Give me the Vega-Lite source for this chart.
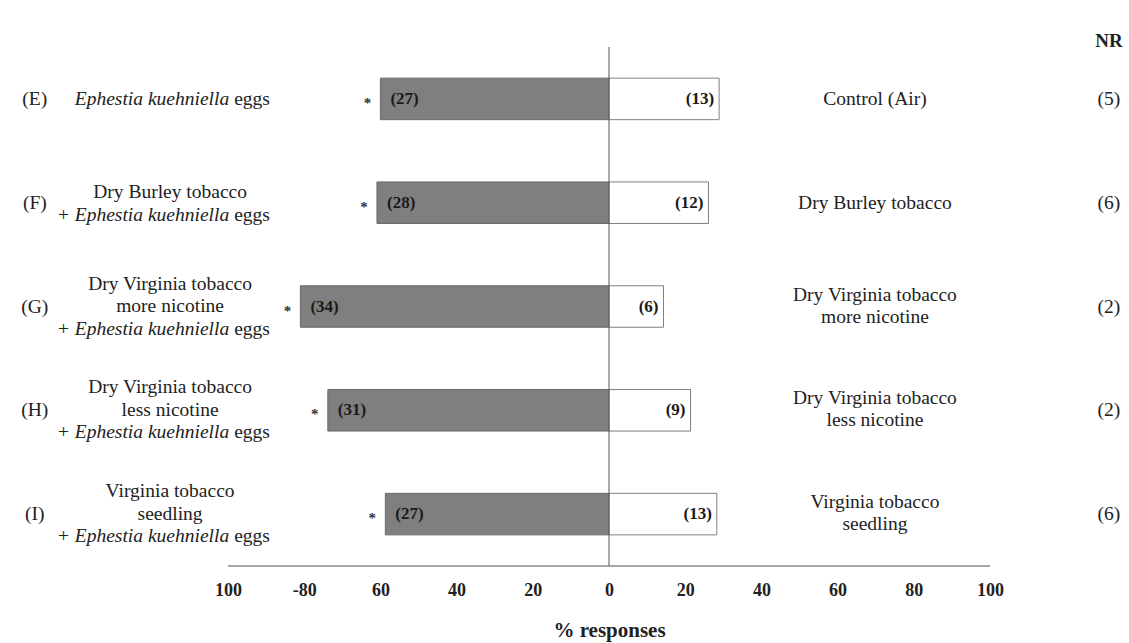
{
  "$schema": "https://vega.github.io/schema/vega-lite/v6.json",
  "width": 1129,
  "height": 519,
  "autosize": {"type": "none"},
  "padding": {"left": 0, "right": 0, "top": 47, "bottom": 77},
  "background": "white",
  "config": {
    "view": {"stroke": null},
    "font": "Liberation Serif",
    "axisX": {
      "domain": false, "ticks": false, "tickSize": 0, "grid": false,
      "labelFont": "Liberation Serif", "labelFontSize": 18, "labelFontWeight": "bold", "labelColor": "#222", "labelPadding": 15,
      "titleFont": "Liberation Serif", "titleFontSize": 21, "titleFontWeight": "bold", "titleColor": "#222"
    }
  },
  "data": {
    "values": [
      {"g": "E", "letter": "(E)", "top": "", "ital": "Ephestia kuehniella", "reg": "eggs", "rlab": "Control (Air)", "left": -60.0, "right": 28.9, "nl": 27, "nr": 13, "nres": 5},
      {"g": "F", "letter": "(F)", "top": "Dry Burley tobacco", "ital": "+ Ephestia kuehniella", "reg": "eggs", "rlab": "Dry Burley tobacco", "left": -60.9, "right": 26.1, "nl": 28, "nr": 12, "nres": 6},
      {"g": "G", "letter": "(G)", "top": "Dry Virginia tobacco\nmore nicotine", "ital": "+ Ephestia kuehniella", "reg": "eggs", "rlab": "Dry Virginia tobacco\nmore nicotine", "left": -81.0, "right": 14.3, "nl": 34, "nr": 6, "nres": 2},
      {"g": "H", "letter": "(H)", "top": "Dry Virginia tobacco\nless nicotine", "ital": "+ Ephestia kuehniella", "reg": "eggs", "rlab": "Dry Virginia tobacco\nless nicotine", "left": -73.8, "right": 21.4, "nl": 31, "nr": 9, "nres": 2},
      {"g": "I", "letter": "(I)", "top": "Virginia tobacco\nseedling", "ital": "+ Ephestia kuehniella", "reg": "eggs", "rlab": "Virginia tobacco\nseedling", "left": -58.7, "right": 28.3, "nl": 27, "nr": 13, "nres": 6}
    ]
  },
  "transform": [
    {"calculate": "'(' + datum.nl + ')'", "as": "lc"},
    {"calculate": "'(' + datum.nr + ')'", "as": "rc"},
    {"calculate": "'(' + datum.nres + ')'", "as": "nrs"}
  ],
  "layer": [
    {
      "mark": {"type": "bar", "color": "#7f7f7f", "stroke": "#6a6a6a", "strokeWidth": 1},
      "encoding": {
        "x": {
          "field": "left", "type": "quantitative",
          "scale": {"domain": [-159.84, 136.48], "nice": false, "zero": false},
          "title": "% responses",
          "axis": {
            "values": [-100, -80, -60, -40, -20, 0, 20, 40, 60, 80, 100],
            "labelExpr": "datum.value == -80 ? '-80' : format(abs(datum.value), 'd')",
            "titleX": {"expr": "scale('x', 0)"}, "titleY": 53, "titleAlign": "center", "titleBaseline": "top"
          }
        },
        "x2": {"datum": 0},
        "y": {"field": "g", "type": "nominal", "sort": null, "axis": null, "scale": {"paddingInner": 0.6, "paddingOuter": 0.3}}
      }
    },
    {
      "mark": {"type": "bar", "color": "white", "stroke": "#808080", "strokeWidth": 1},
      "encoding": {
        "x": {"field": "right", "type": "quantitative", "title": "% responses"},
        "x2": {"datum": 0},
        "y": {"field": "g", "type": "nominal", "sort": null, "axis": null}
      }
    },
    {
      "data": {"values": [{}]},
      "mark": {"type": "rule", "color": "#555", "strokeWidth": 1},
      "encoding": {"x": {"datum": 0, "type": "quantitative", "title": "% responses"}}
    },
    {
      "data": {"values": [{}]},
      "mark": {"type": "rule", "color": "#888", "strokeWidth": 1.5},
      "encoding": {"x": {"datum": -100, "type": "quantitative", "title": "% responses"}, "x2": {"datum": 100}, "y": {"value": {"expr": "height"}}}
    },
    {
      "mark": {"type": "text", "text": "*", "align": "center", "baseline": "middle", "dx": -13, "dy": 4, "fontSize": 15, "fontWeight": "bold", "color": "#333"},
      "encoding": {
        "x": {"field": "left", "type": "quantitative", "title": "% responses"},
        "y": {"field": "g", "type": "nominal", "sort": null, "axis": null}
      }
    },
    {
      "mark": {"type": "text", "align": "left", "baseline": "middle", "dx": 10, "fontSize": 17, "fontWeight": "bold", "color": "#1a1a1a"},
      "encoding": {
        "x": {"field": "left", "type": "quantitative", "title": "% responses"},
        "y": {"field": "g", "type": "nominal", "sort": null, "axis": null},
        "text": {"field": "lc", "type": "nominal"}
      }
    },
    {
      "mark": {"type": "text", "align": "right", "baseline": "middle", "dx": -5, "fontSize": 17, "fontWeight": "bold", "color": "#1a1a1a"},
      "encoding": {
        "x": {"field": "right", "type": "quantitative", "title": "% responses"},
        "y": {"field": "g", "type": "nominal", "sort": null, "axis": null},
        "text": {"field": "rc", "type": "nominal"}
      }
    },
    {
      "mark": {"type": "text", "align": "center", "baseline": "middle", "fontSize": 19.5, "color": "#222"},
      "encoding": {
        "x": {"datum": -150.7, "type": "quantitative", "title": "% responses"},
        "y": {"field": "g", "type": "nominal", "sort": null, "axis": null},
        "text": {"field": "letter", "type": "nominal"}
      }
    },
    {
      "transform": [{"filter": {"field": "g", "oneOf": ["G", "H", "I"]}}],
      "mark": {"type": "text", "align": "center", "baseline": "middle", "dy": -23, "fontSize": 19.5, "lineBreak": "\n", "lineHeight": 22.5, "color": "#222"},
      "encoding": {
        "x": {"datum": -115.2, "type": "quantitative", "title": "% responses"},
        "y": {"field": "g", "type": "nominal", "sort": null, "axis": null},
        "text": {"field": "top", "type": "nominal"}
      }
    },
    {
      "transform": [{"filter": {"field": "g", "oneOf": ["F"]}}],
      "mark": {"type": "text", "align": "center", "baseline": "middle", "dy": -11, "fontSize": 19.5, "color": "#222"},
      "encoding": {
        "x": {"datum": -115.2, "type": "quantitative", "title": "% responses"},
        "y": {"field": "g", "type": "nominal", "sort": null, "axis": null},
        "text": {"field": "top", "type": "nominal"}
      }
    },
    {
      "transform": [{"filter": {"field": "g", "oneOf": ["G", "H", "I"]}}],
      "layer": [
        {"mark": {"type": "text", "align": "right", "baseline": "middle", "dy": 22, "fontSize": 19.5, "fontStyle": "italic", "color": "#222"},
         "encoding": {"text": {"field": "ital", "type": "nominal"}}},
        {"mark": {"type": "text", "align": "left", "baseline": "middle", "dx": 5, "dy": 22, "fontSize": 19.5, "color": "#222"},
         "encoding": {"text": {"field": "reg", "type": "nominal"}}}
      ],
      "encoding": {
        "x": {"datum": -99.7, "type": "quantitative", "title": "% responses"},
        "y": {"field": "g", "type": "nominal", "sort": null, "axis": null}
      }
    },
    {
      "transform": [{"filter": {"field": "g", "oneOf": ["F"]}}],
      "layer": [
        {"mark": {"type": "text", "align": "right", "baseline": "middle", "dy": 12, "fontSize": 19.5, "fontStyle": "italic", "color": "#222"},
         "encoding": {"text": {"field": "ital", "type": "nominal"}}},
        {"mark": {"type": "text", "align": "left", "baseline": "middle", "dx": 5, "dy": 12, "fontSize": 19.5, "color": "#222"},
         "encoding": {"text": {"field": "reg", "type": "nominal"}}}
      ],
      "encoding": {
        "x": {"datum": -99.7, "type": "quantitative", "title": "% responses"},
        "y": {"field": "g", "type": "nominal", "sort": null, "axis": null}
      }
    },
    {
      "transform": [{"filter": {"field": "g", "oneOf": ["E"]}}],
      "layer": [
        {"mark": {"type": "text", "align": "right", "baseline": "middle", "fontSize": 19.5, "fontStyle": "italic", "color": "#222"},
         "encoding": {"text": {"field": "ital", "type": "nominal"}}},
        {"mark": {"type": "text", "align": "left", "baseline": "middle", "dx": 5, "fontSize": 19.5, "color": "#222"},
         "encoding": {"text": {"field": "reg", "type": "nominal"}}}
      ],
      "encoding": {
        "x": {"datum": -99.7, "type": "quantitative", "title": "% responses"},
        "y": {"field": "g", "type": "nominal", "sort": null, "axis": null}
      }
    },
    {
      "transform": [{"filter": {"field": "g", "oneOf": ["G", "H", "I"]}}],
      "mark": {"type": "text", "align": "center", "baseline": "middle", "dy": -12, "fontSize": 19.5, "lineBreak": "\n", "lineHeight": 22, "color": "#222"},
      "encoding": {
        "x": {"datum": 69.8, "type": "quantitative", "title": "% responses"},
        "y": {"field": "g", "type": "nominal", "sort": null, "axis": null},
        "text": {"field": "rlab", "type": "nominal"}
      }
    },
    {
      "transform": [{"filter": {"field": "g", "oneOf": ["E", "F"]}}],
      "mark": {"type": "text", "align": "center", "baseline": "middle", "fontSize": 19.5, "color": "#222"},
      "encoding": {
        "x": {"datum": 69.8, "type": "quantitative", "title": "% responses"},
        "y": {"field": "g", "type": "nominal", "sort": null, "axis": null},
        "text": {"field": "rlab", "type": "nominal"}
      }
    },
    {
      "mark": {"type": "text", "align": "center", "baseline": "middle", "fontSize": 19.5, "color": "#222"},
      "encoding": {
        "x": {"datum": 131.2, "type": "quantitative", "title": "% responses"},
        "y": {"field": "g", "type": "nominal", "sort": null, "axis": null},
        "text": {"field": "nrs", "type": "nominal"}
      }
    },
    {
      "transform": [{"filter": "datum.g == 'E'"}],
      "mark": {"type": "text", "text": "NR", "align": "center", "baseline": "middle", "dy": -58, "fontSize": 19, "fontWeight": "bold", "color": "#222"},
      "encoding": {
        "x": {"datum": 131.2, "type": "quantitative", "title": "% responses"},
        "y": {"field": "g", "type": "nominal", "sort": null, "axis": null}
      }
    }
  ]
}
